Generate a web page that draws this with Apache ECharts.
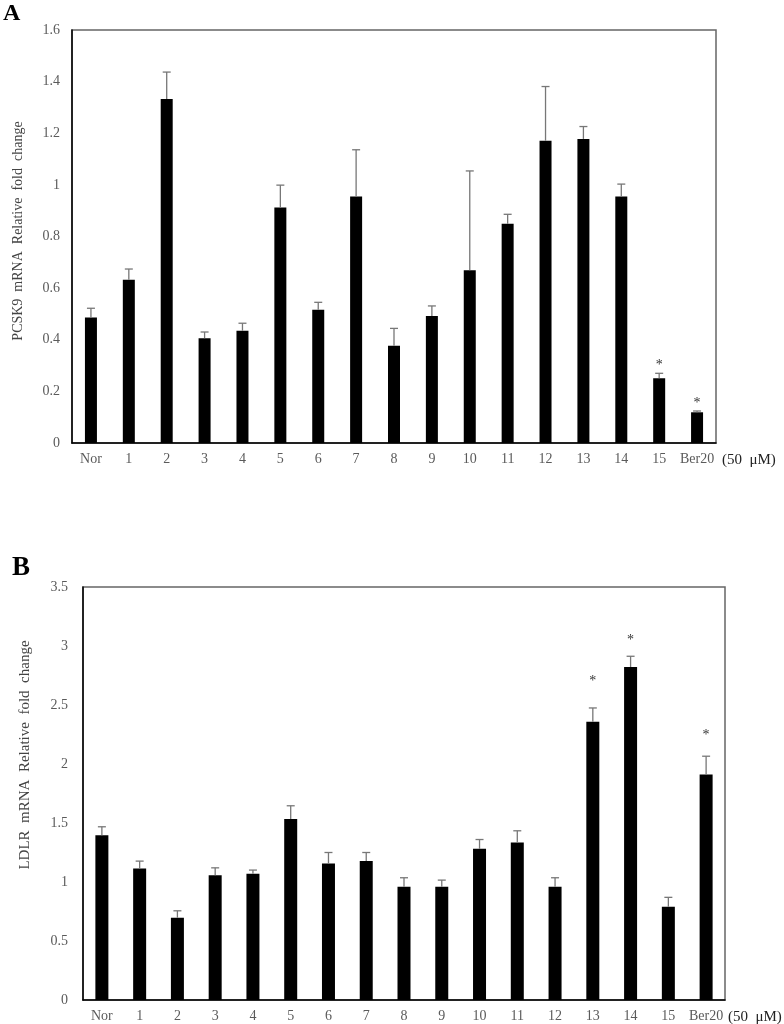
<!DOCTYPE html>
<html>
<head>
<meta charset="utf-8">
<script src="https://cdn.jsdelivr.net/npm/echarts@6/dist/echarts.min.js"></script>
<style>html,body{margin:0;padding:0;background:#fff;}#c{width:784px;height:1024px;}</style>
</head>
<body>
<div id="c"></div>
<script>
const categories = ['Nor','1','2','3','4','5','6','7','8','9','10','11','12','13','14','15','Ber20'];
const pcsk9Mean = [0.486,0.632,1.333,0.406,0.435,0.912,0.516,0.955,0.377,0.492,0.669,0.849,1.171,1.178,0.955,0.251,0.119];
const pcsk9Err  = [0.036,0.042,0.104,0.024,0.029,0.087,0.029,0.181,0.067,0.039,0.385,0.037,0.210,0.048,0.048,0.019,0.005];
const pcsk9Star = [null,null,null,null,null,null,null,null,null,null,null,null,null,null,null,0.314,0.167];
const ldlrMean = [1.397,1.115,0.697,1.058,1.070,1.533,1.157,1.177,0.960,0.960,1.281,1.335,0.960,2.357,2.822,0.790,1.911];
const ldlrErr  = [0.071,0.062,0.059,0.062,0.031,0.113,0.093,0.073,0.076,0.056,0.079,0.099,0.076,0.118,0.091,0.080,0.155];
const ldlrStar = [null,null,null,null,null,null,null,null,null,null,null,null,null,2.729,3.071,null,2.267];
const ticksA = {min:0, max:1.6, interval:0.2};
const ticksB = {min:0, max:3.5, interval:0.5};

const FONT = '"Liberation Serif", "DejaVu Serif", serif';
const chart = echarts.init(document.getElementById('c'), null, {renderer:'canvas'});

function errSeries(gi, mean, err, star) {
  return {
    type:'custom', xAxisIndex:gi, yAxisIndex:gi, z:5,
    data: mean.map((m,i)=>[i, m, err[i], star[i]==null ? -1 : star[i]]),
    renderItem: function(params, api){
      const i = api.value(0), m = api.value(1), e = api.value(2), s = api.value(3);
      const p0 = api.coord([i, m]);
      const p1 = api.coord([i, m + e]);
      const children = [
        {type:'line', shape:{x1:p0[0], y1:p0[1], x2:p1[0], y2:p1[1]}, style:{stroke:'#777', lineWidth:1.3}},
        {type:'line', shape:{x1:p1[0]-4, y1:p1[1], x2:p1[0]+4, y2:p1[1]}, style:{stroke:'#777', lineWidth:1.3}}
      ];
      if (s >= 0) {
        const ps = api.coord([i, s]);
        children.push({type:'text', style:{x:ps[0], y:ps[1]+3, text:'*', fill:'#333', font:'14px ' + FONT, textAlign:'center', textVerticalAlign:'middle'}});
      }
      return {type:'group', children:children};
    }
  };
}

const axisLabelStyle = {color:'#5a5a5a', fontFamily:FONT, fontSize:14};

chart.setOption({
  animation:false,
  backgroundColor:'#fff',
  grid:[
    {left:72, top:30, right:68, bottom:581, show:true, borderColor:'#666', borderWidth:1.5},
    {left:83, top:587, right:59, bottom:24, show:true, borderColor:'#666', borderWidth:1.5}
  ],
  xAxis:[
    {type:'category', gridIndex:0, data:categories, axisTick:{show:false},
     axisLine:{lineStyle:{color:'#000', width:1.5}}, axisLabel:Object.assign({margin:9, interval:0}, axisLabelStyle)},
    {type:'category', gridIndex:1, data:categories, axisTick:{show:false},
     axisLine:{lineStyle:{color:'#000', width:1.5}}, axisLabel:Object.assign({margin:9, interval:0}, axisLabelStyle)}
  ],
  yAxis:[
    {type:'value', gridIndex:0, min:ticksA.min, max:ticksA.max, interval:ticksA.interval, splitLine:{show:false},
     axisTick:{show:false}, axisLine:{show:true, lineStyle:{color:'#000', width:1.5}}, axisLabel:Object.assign({margin:12}, axisLabelStyle)},
    {type:'value', gridIndex:1, min:ticksB.min, max:ticksB.max, interval:ticksB.interval, splitLine:{show:false},
     axisTick:{show:false}, axisLine:{show:true, lineStyle:{color:'#000', width:1.5}}, axisLabel:Object.assign({margin:15}, axisLabelStyle)}
  ],
  series:[
    {type:'bar', xAxisIndex:0, yAxisIndex:0, data:pcsk9Mean, barWidth:12, itemStyle:{color:'#000'}},
    errSeries(0, pcsk9Mean, pcsk9Err, pcsk9Star),
    {type:'bar', xAxisIndex:1, yAxisIndex:1, data:ldlrMean, barWidth:13, itemStyle:{color:'#000'}},
    errSeries(1, ldlrMean, ldlrErr, ldlrStar)
  ],
  graphic:[
    {type:'text', left:3, top:2, style:{text:'A', font:'bold 24px ' + FONT, fill:'#000'}},
    {type:'text', left:12, top:555, style:{text:'B', font:'bold 27px ' + FONT, fill:'#000'}},
    {type:'text', x:722, y:460, style:{text:'(50  μM)', font:'15px ' + FONT, fill:'#222', textVerticalAlign:'middle'}},
    {type:'text', x:728, y:1017, style:{text:'(50  μM)', font:'15px ' + FONT, fill:'#222', textVerticalAlign:'middle'}},
    {type:'text', x:18, y:231, rotation:Math.PI/2, style:{text:'PCSK9  mRNA  Relative  fold  change', font:'14px ' + FONT, fill:'#444', textAlign:'center', textVerticalAlign:'middle'}},
    {type:'text', x:25, y:755, rotation:Math.PI/2, style:{text:'LDLR  mRNA  Relative  fold  change', font:'15px ' + FONT, fill:'#444', textAlign:'center', textVerticalAlign:'middle'}}
  ]
});
</script>
</body>
</html>
